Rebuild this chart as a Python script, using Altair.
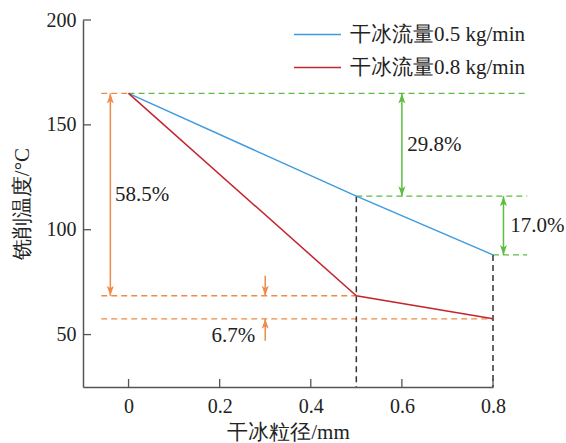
import altair as alt
import pandas as pd

FONT = "Liberation Serif"
TXT = "#222222"

# ---- data ----
series_names = ["干冰流量0.5 kg/min", "干冰流量0.8 kg/min"]
series_colors = ["#3d9be0", "#c4262e"]
particle_size = [0, 0.5, 0.8]
temp_flow05 = [165, 116, 88]
temp_flow08 = [165, 68.5, 57.5]

x_ticks = [0, 0.2, 0.4, 0.6, 0.8]
y_ticks = [50, 100, 150, 200]

# annotation reference lines (data coordinates)
orange_h = {"x": [-0.06, -0.06, -0.06], "x2": [0, 0.5, 0.8], "y": [165, 68.5, 57.5]}
green_h = {"x": [0, 0.5, 0.8], "x2": [0.875, 0.875, 0.875], "y": [165, 116, 88]}
black_v = {"x": [0.5, 0.8], "y": [116, 88], "y2": [25, 25]}

# arrows: shaft from y to y2, heads at the listed ends
orange_shafts = {"x": [-0.04, 0.3, 0.3], "y": [165, 78, 47], "y2": [68.5, 68.5, 57.5]}
orange_heads = {"x": [-0.04, -0.04, 0.3, 0.3], "y": [165, 68.5, 68.5, 57.5],
                "dir": ["up", "down", "down", "up"]}
green_shafts = {"x": [0.6, 0.823], "y": [165, 116], "y2": [116, 88]}
green_heads = {"x": [0.6, 0.6, 0.823, 0.823], "y": [165, 116, 116, 88],
               "dir": ["up", "down", "up", "down"]}

labels_left = {"x": [-0.03, 0.612, 0.838], "y": [116.5, 140.5, 102],
               "text": ["58.5%", "29.8%", "17.0%"]}
labels_right = {"x": [0.278], "y": [49.5], "text": ["6.7%"]}

# ---- encodings ----
xscale = alt.Scale(domain=[-0.1, 0.8], nice=False, zero=False)
yscale = alt.Scale(domain=[25, 200], nice=False, zero=False)
xaxis = alt.Axis(values=x_ticks, ticks=False, grid=False, title="干冰粒径/mm", format="~g",
                 labelPadding=9, titlePadding=5, labelFlush=False)
yaxis = alt.Axis(values=y_ticks, ticks=False, grid=False, title="铣削温度/°C",
                 labelPadding=7, titlePadding=14, labelFlush=False)


def X(f):
    return alt.X(f, type="quantitative", scale=xscale, axis=xaxis)


def Y(f):
    return alt.Y(f, type="quantitative", scale=yscale, axis=yaxis)


lines_df = pd.DataFrame({
    "x": particle_size * 2,
    "y": temp_flow05 + temp_flow08,
    "s": [series_names[0]] * 3 + [series_names[1]] * 3,
})

lines = alt.Chart(lines_df).mark_line(strokeWidth=1.5).encode(
    x=X("x"), y=Y("y"),
    color=alt.Color("s:N", scale=alt.Scale(domain=series_names, range=series_colors),
                    legend=alt.Legend(orient="none", legendX=210, legendY=4, title=None,
                                      symbolType="stroke", symbolSize=2209,
                                      symbolStrokeWidth=1.5, labelOffset=8,
                                      clipHeight=21, rowPadding=11, padding=0,
                                      labelLimit=400)),
)

DASH = [6, 4]
ORANGE = "#ef8a47"
GREEN = "#5cbd3f"


def hseg(d, color):
    return alt.Chart(pd.DataFrame(d)).mark_rule(color=color, strokeWidth=1.3,
                                                  strokeDash=DASH).encode(
        x=X("x"), x2=alt.X2("x2"), y=Y("y"))


def vseg(d, color, dash):
    m = alt.Chart(pd.DataFrame(d)).mark_rule(color=color, strokeWidth=1.5,
                                             strokeDash=dash) if dash else \
        alt.Chart(pd.DataFrame(d)).mark_rule(color=color, strokeWidth=1.5)
    return m.encode(x=X("x"), y=Y("y"), y2=alt.Y2("y2"))


UP = "M0,0L-0.7,2L0,1.5L0.7,2Z"
DOWN = "M0,0L-0.7,-2L0,-1.5L0.7,-2Z"


def heads(d, color):
    return alt.Chart(pd.DataFrame(d)).mark_point(filled=True, color=color, size=100,
                                                 opacity=1, strokeWidth=0).encode(
        x=X("x"), y=Y("y"),
        shape=alt.Shape("dir:N", scale=alt.Scale(domain=["up", "down"], range=[UP, DOWN]),
                        legend=None))


def texts(d, align):
    return alt.Chart(pd.DataFrame(d)).mark_text(font=FONT, fontSize=21, color=TXT,
                                                align=align, baseline="middle").encode(
        x=X("x"), y=Y("y"), text="text:N")


xt = alt.Chart(pd.DataFrame({"x": x_ticks})).mark_rule(color="#555555", strokeWidth=1.3).encode(
    x=X("x"), y=alt.value(367), y2=alt.value(359))
yt = alt.Chart(pd.DataFrame({"y": y_ticks})).mark_rule(color="#555555", strokeWidth=1.3).encode(
    y=Y("y"), x=alt.value(0), x2=alt.value(8))

chart = alt.layer(
    hseg(orange_h, ORANGE),
    hseg(green_h, GREEN),
    vseg(black_v, "#333333", DASH),
    vseg(orange_shafts, ORANGE, None),
    vseg(green_shafts, GREEN, None),
    heads(orange_heads, ORANGE),
    heads(green_heads, GREEN),
    lines,
    texts(labels_left, "left"),
    texts(labels_right, "right"),
    xt, yt,
).properties(
    width=410, height=367,
    autosize=alt.AutoSizeParams(type="none"),
    padding={"left": 83, "top": 20, "right": 73, "bottom": 56},
).configure(
    background="white", font=FONT
).configure_view(stroke=None).configure_axis(
    labelFont=FONT, labelFontSize=20, labelColor=TXT,
    titleFont=FONT, titleFontSize=21, titleColor=TXT, titleFontWeight="normal",
    domainColor="#555555", domainWidth=1.5,
).configure_legend(
    labelFont=FONT, labelFontSize=21, labelColor=TXT,
).configure_text(font=FONT)

chart.save("out.html", embed_options={"renderer": "svg", "actions": False})
